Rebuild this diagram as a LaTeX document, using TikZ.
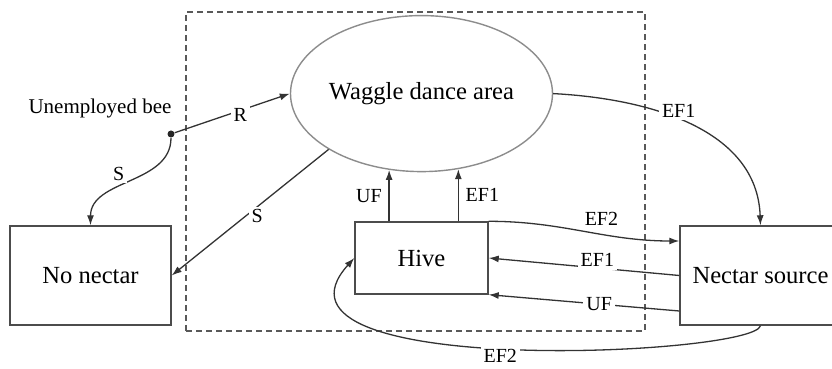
\documentclass[tikz,border=0pt]{standalone}
\usepackage{fontspec}
\setmainfont{Liberation Serif}
\usetikzlibrary{shapes.geometric, arrows.meta, positioning, calc}
\tikzset{
    state/.style={
        rectangle,
        draw=black!70,
        line width=0.7pt,
        minimum width=80.5pt,
        minimum height=49.5pt,
        inner sep=0pt,
        font=\fontsize{12.3}{14}\selectfont
    },
    hivebox/.style={
        state,
        minimum width=66.5pt,
        minimum height=36pt
    },
    dance/.style={
        ellipse,
        draw=black!45,
        line width=0.7pt,
        minimum width=131pt,
        minimum height=78pt,
        inner sep=0pt,
        font=\fontsize{12.3}{14}\selectfont
    },
    zone/.style={
        rectangle,
        draw=black!65,
        dash pattern=on 3pt off 2pt,
        line width=0.6pt,
        minimum width=229.5pt,
        minimum height=159.5pt
    },
    arrow/.style={
        draw=black!80,
        line width=0.65pt,
        ->,
        >={Latex[length=5pt, width=3.5pt]}
    },
    lbl/.style={
        fill=white,
        inner sep=1.5pt,
        font=\fontsize{10}{12}\selectfont
    },
    side/.style={
        font=\fontsize{10}{12}\selectfont
    },
    note/.style={
        font=\fontsize{10.5}{12}\selectfont
    },
    dot/.style={
        circle,
        fill=black!85,
        inner sep=0pt,
        minimum size=3.5pt
    },
}

\begin{document}
\begin{tikzpicture}[x=0.5pt, y=-0.5pt]
\useasboundingbox (0,0) rectangle (832,369);

% Colony frame
\node[zone] (colony) at (415.5,171.5) {};

% Hive
\node[hivebox] (hive) at (421.5,258) {Hive};

% Waggle dance area
\node[dance, above=24.5pt of hive] (dance) {Waggle dance area};

% No nectar
\node[state] (nonectar) at (90.5,275.5) {No nectar};

% Nectar source
\node[state] (source) at (760.5,275.5) {Nectar source};

% Unemployed bee
\node[dot] (bee) at (171,134) {};
\node[note] (beetxt) at (100,108) {Unemployed bee};

% Arrows with labels
\draw[arrow] (bee) -- node[lbl, pos=.57, yshift=-2.5pt] {R} (dance.west);
\draw[arrow] (bee) to[out=-90, in=90] node[lbl, xshift=-6pt, yshift=4pt] {S} (nonectar.north);
\draw[arrow] (dance.211) -- node[lbl, xshift=3.5pt, yshift=-2pt] {S} (nonectar.east);

\draw[arrow] (dance.247 |- hive.north) -- node[side, left] {UF} (dance.247);
\draw[arrow] (dance.296 |- hive.north) -- node[side, right] {EF1} (dance.296);

\draw[arrow] (dance.east) to[out=-3, in=92] node[lbl, pos=.4, xshift=6pt, yshift=2pt] {EF1} (source.north);
\draw[arrow] (hive.north east) to[out=0, in=180] node[lbl, above, pos=.6, yshift=2.5pt] {EF2} ([yshift=17.25pt]source.west);
\draw[arrow] (source.west) -- node[lbl, pos=.43, yshift=4pt] {EF1} (hive.east);
\draw[arrow] ([yshift=-17.75pt]source.west) -- node[lbl, pos=.42] {UF} (hive.south east);
\draw[arrow] (source.south) .. controls +(-6,30) and +(-110,122) .. node[lbl, pos=.52, yshift=-4pt] {EF2} (hive.west);

\end{tikzpicture}
\end{document}
